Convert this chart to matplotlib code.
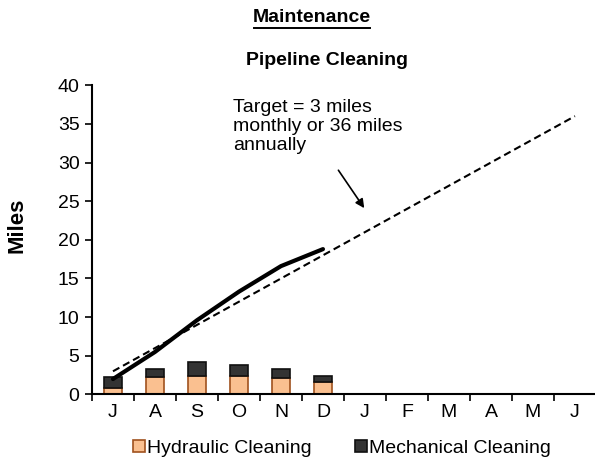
import numpy as np
import matplotlib.pyplot as plt
from matplotlib.patches import Patch

plt.rcParams['font.family'] = ['Liberation Sans', 'DejaVu Sans']

months = ["J", "A", "S", "O", "N", "D", "J", "F", "M", "A", "M", "J"]
hydraulic = [0.9, 2.2, 2.35, 2.35, 2.15, 1.6]
mechanical = [1.3, 1.1, 1.9, 1.4, 1.15, 0.75]
cumulative = [2.0, 5.5, 9.6, 13.3, 16.6, 18.8]
target = [3, 6, 9, 12, 15, 18, 21, 24, 27, 30, 33, 36]

x = np.arange(len(months))
xb = np.arange(len(hydraulic))

fig = plt.figure(figsize=(5.95, 4.63), dpi=100)
ax = fig.add_axes([0.1546, 0.148, 0.847, 0.668])

ax.bar(xb, hydraulic, width=0.42, color="#FAC090", edgecolor="#A0521E", linewidth=1.2, zorder=2)
ax.bar(xb, mechanical, width=0.42, bottom=hydraulic, color="#333333", edgecolor="#111111",
       linewidth=1.2, zorder=2)
ax.plot(x, target, color="black", linestyle=(0, (3.5, 2)), linewidth=1.5, zorder=3)
ax.plot(xb, cumulative, color="black", linewidth=3, solid_capstyle="round", zorder=4)

ax.set_xlim(-0.5, 11.5)
ax.set_ylim(0, 40)
ax.set_yticks(range(0, 41, 5))
ax.set_xticks(x)
ax.set_xticklabels(months)
ax.set_xticks(np.arange(-0.5, 12, 1), minor=True)
ax.tick_params(axis="x", which="major", length=0, pad=7, labelsize=14)
ax.tick_params(axis="x", which="minor", length=5, width=1.2, direction="out")
ax.tick_params(axis="y", length=5, width=1.2, direction="out", labelsize=14, pad=4)
for s in ["top", "right"]:
    ax.spines[s].set_visible(False)
for s in ["left", "bottom"]:
    ax.spines[s].set_linewidth(1.5)

ax.set_ylabel("Miles", fontsize=16, fontweight="bold")
ax.yaxis.set_label_coords(-0.127, 0.548)

ax.text(2.86, 38.2, "Target = 3 miles\nmonthly or 36 miles\nannually", fontsize=14,
        va="top", ha="left", linespacing=1.15)
ax.annotate("", xy=(6.02, 23.8), xytext=(5.33, 29.3),
            arrowprops=dict(arrowstyle="-|>", color="black", lw=1.2, mutation_scale=13))

fig.text(0.524, 0.963, "Maintenance", fontsize=14, fontweight="bold", ha="center", va="center")
fig.add_artist(plt.Line2D([0.427, 0.622], [0.94, 0.94], color="black", lw=1.4))
fig.text(0.55, 0.87, "Pipeline Cleaning", fontsize=14, fontweight="bold", ha="center", va="center")

handles = [Patch(facecolor="#FAC090", edgecolor="#A0521E", linewidth=1.2, label="Hydraulic Cleaning"),
           Patch(facecolor="#333333", edgecolor="#111111", linewidth=1.2, label="Mechanical Cleaning")]
fig.legend(handles=handles, loc="center", bbox_to_anchor=(0.575, 0.032), ncol=2, frameon=False,
           fontsize=14, handlelength=0.6, handleheight=0.6, handletextpad=0.15, columnspacing=2.2)

fig.savefig("out.png", dpi=100)
